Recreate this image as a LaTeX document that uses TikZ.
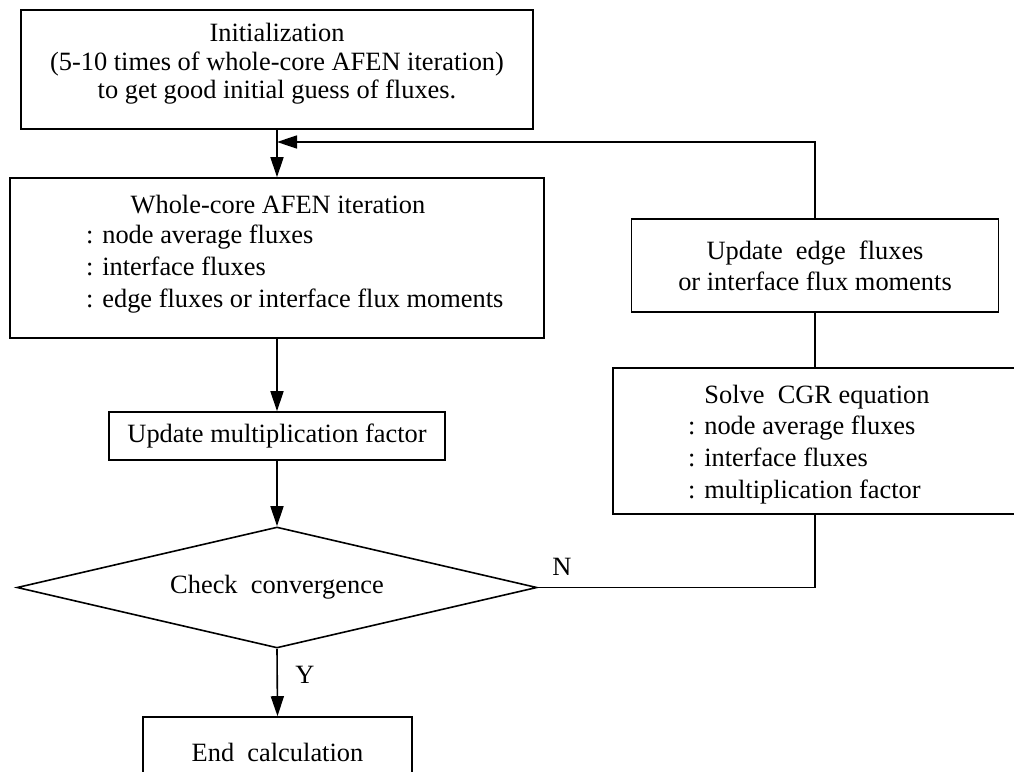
\documentclass[tikz,border=0pt]{standalone}
\usepackage{fontspec}
\setmainfont{Liberation Serif}
\usetikzlibrary{arrows.meta,shapes.geometric}
\begin{document}
\begin{tikzpicture}[x=1pt,y=-1pt,
  every node/.style={font=\fontsize{26.4}{32}\selectfont, inner sep=0pt},
  box/.style={draw, line width=1.6pt, rectangle, align=center},
  conn/.style={line width=1.6pt},
  arr/.style={conn, -{Triangle[length=20pt,width=13pt]}},
  lbl/.style={align=left, anchor=west}]
\clip (0,0) rectangle (1014,771);
% boxes
\node[box, minimum width=512pt, minimum height=119pt] (init) at (277,69.5) {};
\node[align=center, font=\fontsize{26.4}{28.5}\selectfont] (inittext) at (277,64)
  {Initialization\\(5-10 times of whole-core AFEN iteration)\\to get good initial guess of fluxes.};
\node[box, minimum width=534pt, minimum height=160pt] (main) at (277,258) {};
\node (maintitle) at (278,205) {Whole-core AFEN iteration};
\node[lbl] (mainlines) at (86,269) {: node average fluxes\\: interface fluxes\\: edge fluxes or interface flux moments};
\node[box, minimum width=336pt, minimum height=48pt] (mult) at (277,436) {Update multiplication factor};
\node[draw, line width=1.6pt, diamond, aspect=4.3, minimum width=520pt, minimum height=121pt] (chk) at (277,587.5) {Check\ \ convergence};
\node[box, minimum width=269pt, minimum height=70pt] (end) at (277.5,752) {End\ \ calculation};
\node[box, minimum width=367pt, minimum height=93pt, font=\fontsize{26.4}{31}\selectfont] (upd) at (815,265.5)
  {Update\ \ edge\ \ fluxes\\or interface flux moments};
\node[box, minimum width=404pt, minimum height=146pt] (solve) at (815,441) {};
\node (solvetitle) at (817,397) {Solve\ \ CGR equation};
\node[lbl] (solvelines) at (688,460) {: node average fluxes\\: interface fluxes\\: multiplication factor};
% labels
\node (ylab) at (305,675) {Y};
\node (nlab) at (562,567) {N};
% connectors
\coordinate (join) at (277,142);
\draw[arr] (init.south) -- (main.north);
\draw[arr] (upd.north) |- (join);
\draw[arr] (main.south) -- (mult.north);
\draw[arr] (mult.south) -- (chk.north);
\draw[arr] (chk.south) -- (end.north);
\draw[conn] (chk.east) -| (solve.south);
\draw[conn] (solve.north) -- (upd.south);
\end{tikzpicture}
\end{document}
